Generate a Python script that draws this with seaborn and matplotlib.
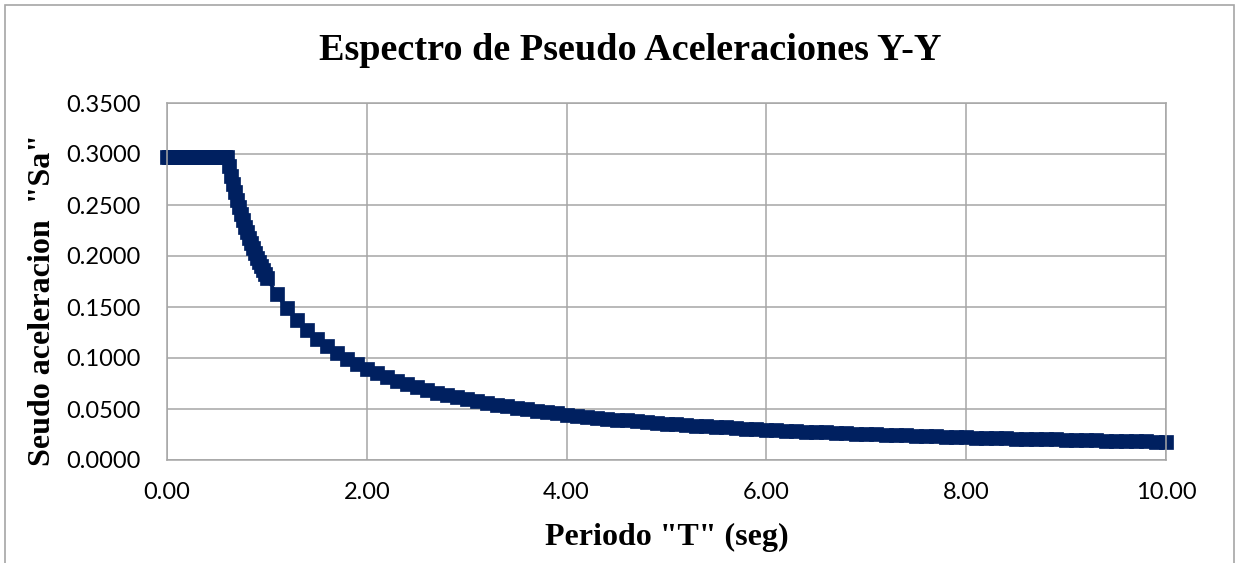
import matplotlib
matplotlib.use("Agg")
import matplotlib.pyplot as plt
import seaborn as sns
import pandas as pd
from matplotlib.patches import Rectangle

# ---- data ----
periodo_T = [
    0.00, 0.02, 0.04, 0.06, 0.08, 0.10, 0.12, 0.14, 0.16, 0.18,
    0.20, 0.22, 0.24, 0.26, 0.28, 0.30, 0.32, 0.34, 0.36, 0.38,
    0.40, 0.42, 0.44, 0.46, 0.48, 0.50, 0.52, 0.54, 0.56, 0.58,
    0.60, 0.62, 0.64, 0.66, 0.68, 0.70, 0.72, 0.74, 0.76, 0.78,
    0.80, 0.82, 0.84, 0.86, 0.88, 0.90, 0.92, 0.94, 0.96, 0.98,
    1.00, 1.10, 1.20, 1.30, 1.40, 1.50, 1.60, 1.70, 1.80, 1.90,
    2.00, 2.10, 2.20, 2.30, 2.40, 2.50, 2.60, 2.70, 2.80, 2.90,
    3.00, 3.10, 3.20, 3.30, 3.40, 3.50, 3.60, 3.70, 3.80, 3.90,
    4.00, 4.10, 4.20, 4.30, 4.40, 4.50, 4.60, 4.70, 4.80, 4.90,
    5.00, 5.10, 5.20, 5.30, 5.40, 5.50, 5.60, 5.70, 5.80, 5.90,
    6.00, 6.10, 6.20, 6.30, 6.40, 6.50, 6.60, 6.70, 6.80, 6.90,
    7.00, 7.10, 7.20, 7.30, 7.40, 7.50, 7.60, 7.70, 7.80, 7.90,
    8.00, 8.10, 8.20, 8.30, 8.40, 8.50, 8.60, 8.70, 8.80, 8.90,
    9.00, 9.10, 9.20, 9.30, 9.40, 9.50, 9.60, 9.70, 9.80, 9.90,
    10.00,
]
seudo_aceleracion_Sa = [
    0.2975, 0.2975, 0.2975, 0.2975, 0.2975, 0.2975, 0.2975, 0.2975, 0.2975, 0.2975,
    0.2975, 0.2975, 0.2975, 0.2975, 0.2975, 0.2975, 0.2975, 0.2975, 0.2975, 0.2975,
    0.2975, 0.2975, 0.2975, 0.2975, 0.2975, 0.2975, 0.2975, 0.2975, 0.2975, 0.2975,
    0.2975, 0.2879, 0.2789, 0.2705, 0.2625, 0.2550, 0.2479, 0.2412, 0.2349, 0.2288,
    0.2231, 0.2177, 0.2125, 0.2076, 0.2028, 0.1983, 0.1940, 0.1899, 0.1859, 0.1821,
    0.1785, 0.1623, 0.1488, 0.1373, 0.1275, 0.1190, 0.1116, 0.1050, 0.0992, 0.0939,
    0.0893, 0.0850, 0.0811, 0.0776, 0.0744, 0.0714, 0.0687, 0.0661, 0.0638, 0.0616,
    0.0595, 0.0576, 0.0558, 0.0541, 0.0525, 0.0510, 0.0496, 0.0482, 0.0470, 0.0458,
    0.0446, 0.0435, 0.0425, 0.0415, 0.0406, 0.0397, 0.0388, 0.0380, 0.0372, 0.0364,
    0.0357, 0.0350, 0.0343, 0.0337, 0.0331, 0.0325, 0.0319, 0.0313, 0.0308, 0.0303,
    0.0298, 0.0293, 0.0288, 0.0283, 0.0279, 0.0275, 0.0270, 0.0266, 0.0263, 0.0259,
    0.0255, 0.0251, 0.0248, 0.0245, 0.0241, 0.0238, 0.0235, 0.0232, 0.0229, 0.0226,
    0.0223, 0.0220, 0.0218, 0.0215, 0.0213, 0.0210, 0.0208, 0.0205, 0.0203, 0.0201,
    0.0198, 0.0196, 0.0194, 0.0192, 0.0190, 0.0188, 0.0186, 0.0184, 0.0182, 0.0180,
    0.0179,
]
x_ticks = [0.0, 2.0, 4.0, 6.0, 8.0, 10.0]
y_ticks = [0.0, 0.05, 0.10, 0.15, 0.20, 0.25, 0.30, 0.35]

title_text = "Espectro de Pseudo Aceleraciones Y-Y"
x_label = 'Periodo "T" (seg)'
y_label = 'Seudo aceleracion  "Sa"'

df = pd.DataFrame({"T": periodo_T, "Sa": seudo_aceleracion_Sa})

sns.set_theme(style="white")
plt.rcParams["font.family"] = ["Lato", "DejaVu Sans"]
plt.rcParams["text.color"] = "black"

W, H = 1240, 563
fig = plt.figure(figsize=(W / 100, H / 100), dpi=100)
ax = fig.add_axes([167 / W, 1 - 460 / H, (1166 - 167) / W, (460 - 103) / H])

navy = "#002060"
grid_c = "#A6A6A6"

sns.lineplot(data=df, x="T", y="Sa", ax=ax, color=navy, linewidth=2.5,
             marker="s", markersize=10, markeredgecolor=navy,
             markerfacecolor=navy, markeredgewidth=0.5, clip_on=False)

ax.set_xlim(0, 10)
ax.set_ylim(0, 0.35)
ax.set_xticks(x_ticks)
ax.set_yticks(y_ticks)
ax.set_xticklabels([f"{v:.2f}" for v in x_ticks])
ax.set_yticklabels([f"{v:.4f}" for v in y_ticks])
ax.tick_params(axis="both", length=0, labelsize=17, labelcolor="black")
ax.tick_params(axis="x", pad=16)
ax.tick_params(axis="y", pad=19)
ax.grid(True, color=grid_c, linewidth=1.1)
ax.set_axisbelow(True)
for s in ax.spines.values():
    s.set_color(grid_c)
    s.set_linewidth(1.1)

ax.set_xlabel("")
ax.set_ylabel("")

serif = ["Liberation Serif", "DejaVu Serif"]
fig.text(630 / W, 1 - 50 / H, title_text, ha="center", va="center",
         fontsize=27.5, fontweight="bold", family=serif, color="black")
fig.text(667 / W, 1 - 537 / H, x_label, ha="center", va="center",
         fontsize=23, fontweight="bold", family=serif, color="black")
fig.text(42 / W, 1 - 300 / H, y_label, ha="center", va="center",
         rotation=90, fontsize=23, fontweight="bold", family=serif,
         color="black")

fig.patches.append(Rectangle((5 / W, -0.05), (1234 - 5) / W, 1.05 - 5 / H,
                             transform=fig.transFigure, fill=False,
                             edgecolor="#A6A6A6", linewidth=1.2))

fig.savefig("out.png", dpi=100, facecolor="white")
